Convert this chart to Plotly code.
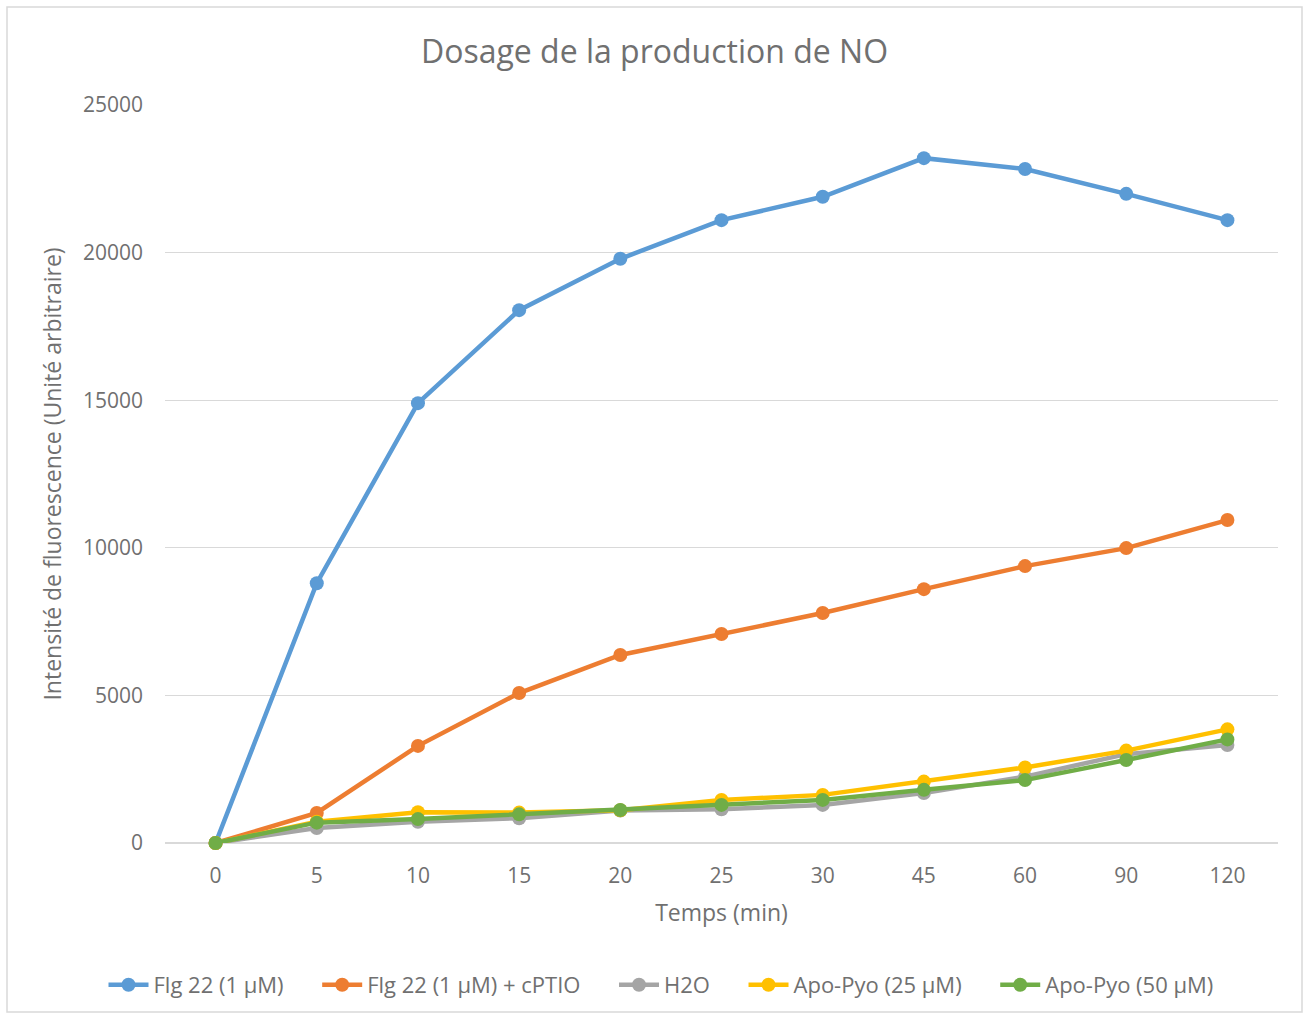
import plotly.graph_objects as go

# Sampling times (min), shown as evenly spaced categories
temps = ["0", "5", "10", "15", "20", "25", "30", "45", "60", "90", "120"]

flg22 = [0, 8800, 14900, 18050, 19790, 21100, 21890, 23200, 22830, 21990, 21100]
flg22_cptio = [0, 1020, 3290, 5080, 6370, 7080, 7790, 8600, 9380, 9990, 10940]
h2o = [0, 510, 720, 840, 1100, 1140, 1290, 1690, 2250, 3010, 3320]
apo_pyo_25 = [0, 720, 1040, 1030, 1110, 1460, 1630, 2080, 2560, 3130, 3850]
apo_pyo_50 = [0, 690, 810, 970, 1120, 1290, 1460, 1800, 2130, 2810, 3510]

names = ["Flg 22 (1 µM)", "Flg 22 (1 µM) + cPTIO", "H2O",
         "Apo-Pyo (25 µM)", "Apo-Pyo (50 µM)"]
colors = ["#5B9BD5", "#ED7D31", "#A5A5A5", "#FFC000", "#70AD47"]
values = [flg22, flg22_cptio, h2o, apo_pyo_25, apo_pyo_50]

W, H = 1309, 1019
ml, mr, mt, mb = 165, 31, 105, 176
pw, ph = W - ml - mr, H - mt - mb

fig = go.Figure()
for i, (name, vals, color) in enumerate(zip(names, values, colors)):
    pad = "\u00a0" * 5 if i < len(names) - 1 else ""
    fig.add_trace(go.Scatter(
        x=temps, y=vals, name=name + pad, mode="lines+markers",
        line=dict(color=color, width=4.5),
        marker=dict(color=color, size=14),
        cliponaxis=False,
    ))

grey = "#707070"
font = "Open Sans"

# thin frame around the whole chart
fig.add_shape(
    type="rect", xref="paper", yref="paper",
    x0=(7 - ml) / pw, x1=(W - 7 - ml) / pw,
    y0=-(mb - 7) / ph, y1=1 + (mt - 7) / ph,
    line=dict(color="#D9D9D9", width=1.5), layer="below",
)

fig.update_layout(
    width=W, height=H,
    margin=dict(l=ml, r=mr, t=mt, b=mb),
    paper_bgcolor="white", plot_bgcolor="white",
    font=dict(family=font, color=grey, size=21),
    title=dict(text="Dosage de la production de NO", x=0.5, xref="container",
               xanchor="center", y=1 - 52 / H, yanchor="middle",
               font=dict(size=32, color=grey, family=font)),
    xaxis=dict(
        type="category", range=[-0.5, 10.5],
        showgrid=False, zeroline=False,
        showline=False, ticks="", ticklabelstandoff=18,
        tickfont=dict(size=21, color=grey),
        title=dict(text="Temps (min)", font=dict(size=23, color=grey), standoff=16),
    ),
    yaxis=dict(
        range=[0, 25000], tickvals=[0, 5000, 10000, 15000, 20000, 25000],
        tickformat="d",
        showgrid=True, gridcolor="#D9D9D9", gridwidth=1.3,
        zeroline=True, zerolinecolor="#D9D9D9", zerolinewidth=1.5,
        showline=False, ticks="", ticklabelstandoff=21,
        tickfont=dict(size=21, color=grey),
        title=dict(text="Intensité de fluorescence (Unité arbitraire)",
                   font=dict(size=23, color=grey), standoff=14),
    ),
    legend=dict(
        orientation="h", x=(661 - ml) / pw, xanchor="center",
        y=-(985 - (H - mb)) / ph, yanchor="middle",
        font=dict(size=22, color=grey),
        itemwidth=40, traceorder="normal",
    ),
)

fig.write_html("out.html")
